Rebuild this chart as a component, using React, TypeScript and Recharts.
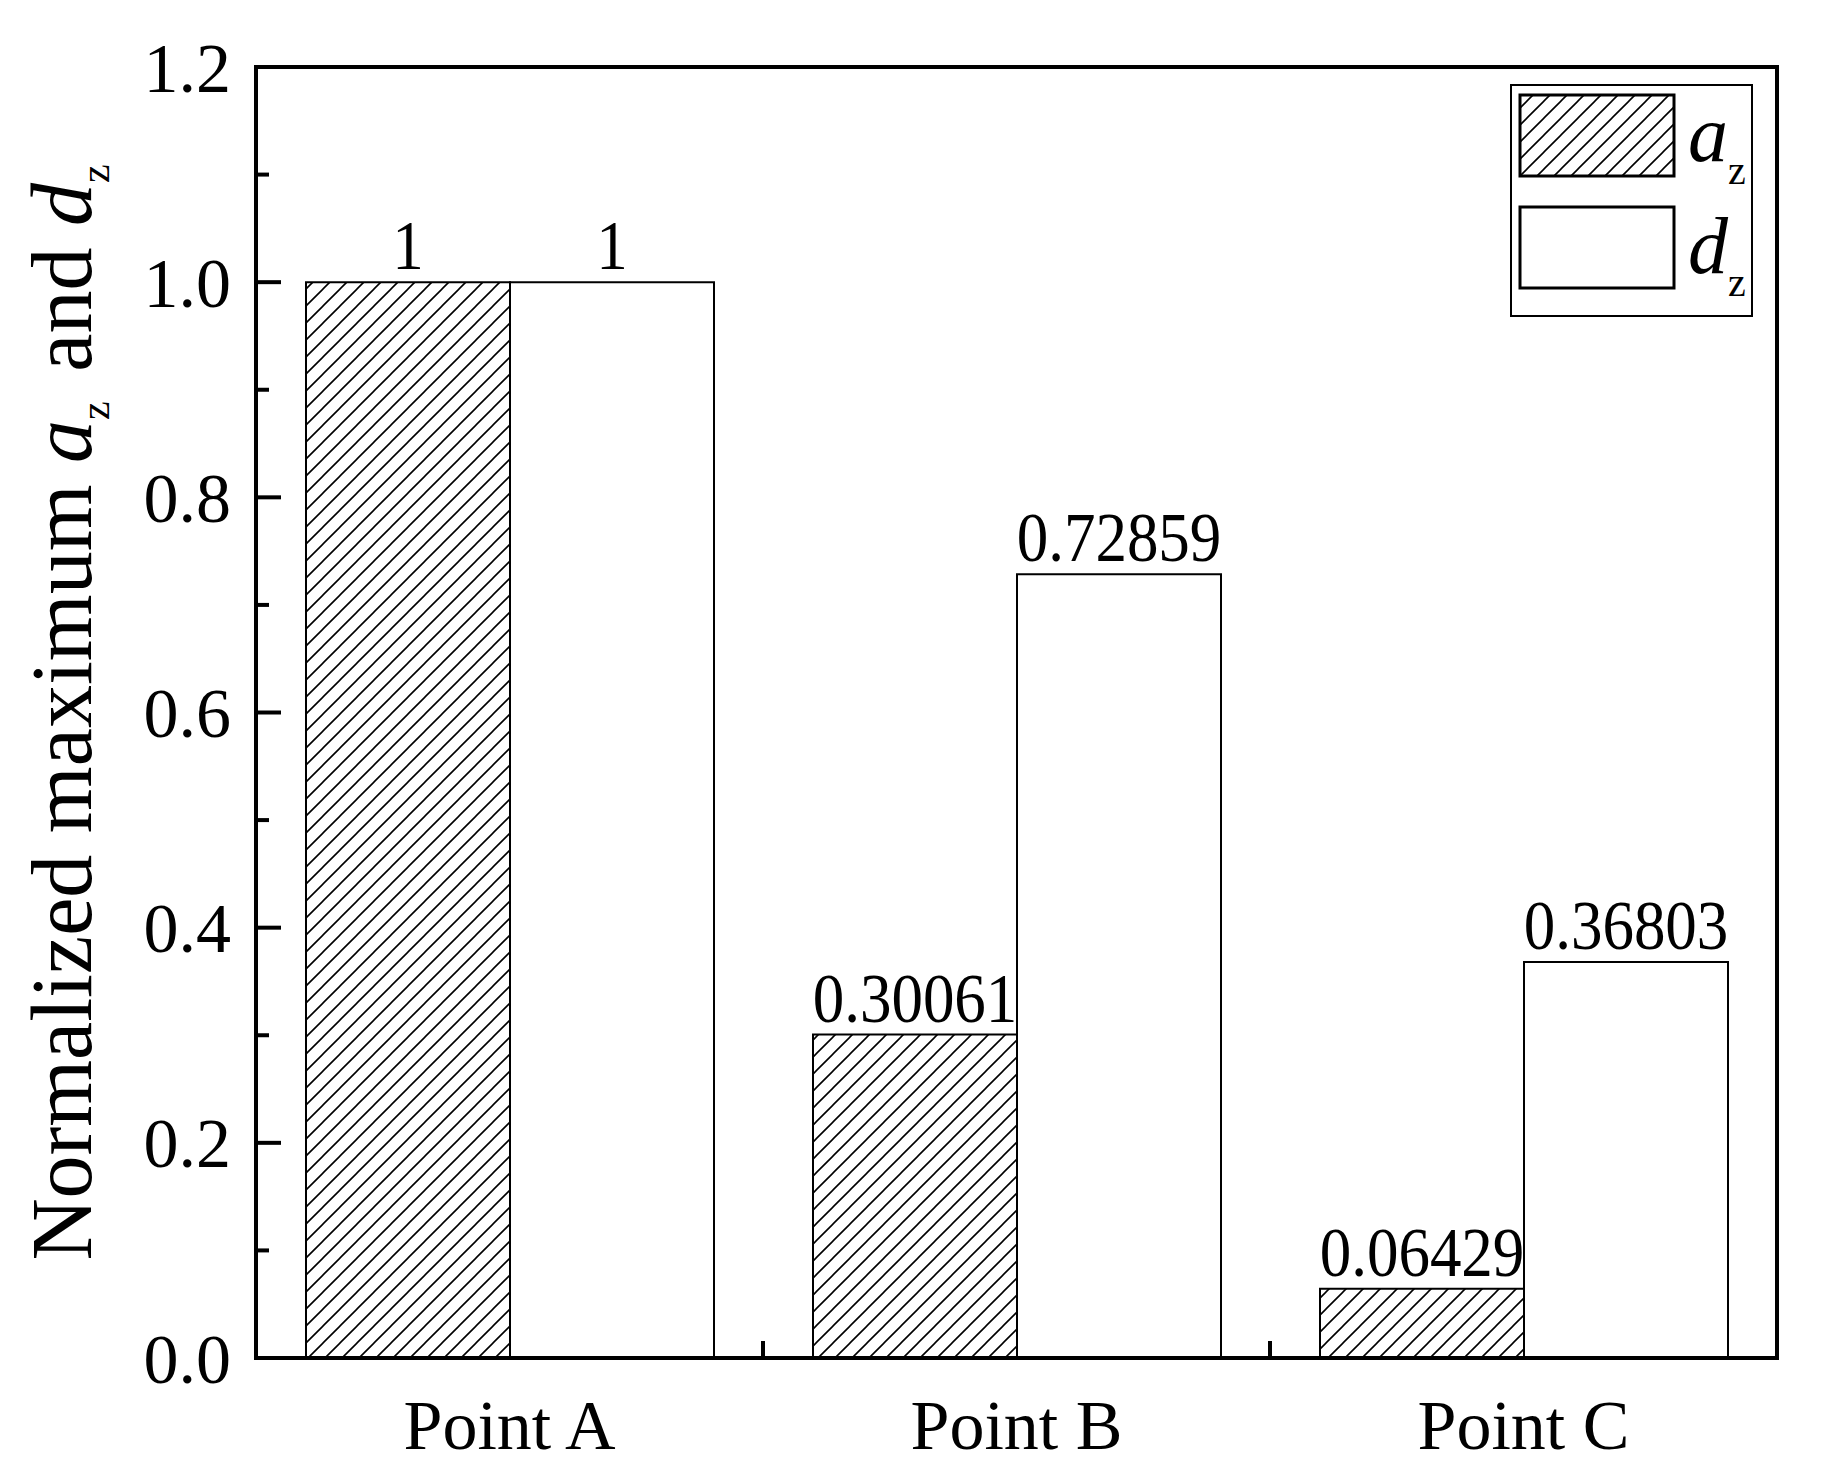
import { BarChart, Bar, XAxis, YAxis, LabelList } from 'recharts'

// values
const categories = ['Point A', 'Point B', 'Point C']
const azValues = [1, 0.30061, 0.06429]
const dzValues = [1, 0.72859, 0.36803]
const yTicks = [0, 0.1, 0.2, 0.3, 0.4, 0.5, 0.6, 0.7, 0.8, 0.9, 1.0, 1.1, 1.2]
const legendItems = [
  { key: 'az', letter: 'a', sub: 'z', hatched: true },
  { key: 'dz', letter: 'd', sub: 'z', hatched: false },
]

const data = categories.map((name, i) => ({ name, az: azValues[i], dz: dzValues[i] }))

const FONT = '"Liberation Serif", "Times New Roman", serif'
const AXIS_LINE = { stroke: '#000', strokeWidth: 4, strokeLinecap: 'square' as const }

function YTick({ x, y, payload }: any) {
  const v = payload.value as number
  const major = Math.round(v * 10) % 2 === 0
  return (
    <g>
      <line x1={x + 25} x2={x + 25 + (major ? 25 : 13)} y1={y} y2={y} stroke="#000" strokeWidth={4} />
      {major && (
        <text x={x} y={y} dy="0.35em" textAnchor="end" fontSize={70} fontFamily={FONT} fill="#000">
          {v.toFixed(1)}
        </text>
      )}
    </g>
  )
}

// category label plus the small inward tick at the boundary to the next category
function XTick({ x, y, payload }: any) {
  const half = payload.offset ?? 0
  const last = payload.index === categories.length - 1
  return (
    <g>
      {!last && half > 0 && (
        <line x1={x + half} x2={x + half} y1={y} y2={y - 17} stroke="#000" strokeWidth={4} />
      )}
      <text x={x} y={y + 91} textAnchor="middle" fontSize={70} fontFamily={FONT} fill="#000">
        {payload.value}
      </text>
    </g>
  )
}

function BarValue({ x, y, width, value }: any) {
  const cx = x + width / 2
  return (
    <text
      transform={`translate(${cx}, ${y - 13}) scale(0.9, 1)`}
      textAnchor="middle"
      fontSize={70}
      fontFamily={FONT}
      fill="#000"
    >
      {String(value)}
    </text>
  )
}

function YTitle({ viewBox }: any) {
  const cx = viewBox.x + 91
  const cy = viewBox.y + viewBox.height / 2
  return (
    <text
      x={cx}
      y={cy}
      transform={`rotate(-90, ${cx}, ${cy})`}
      textAnchor="middle"
      fontSize={86}
      fontFamily={FONT}
      fill="#000"
    >
      {'Normalized maximum '}
      <tspan fontStyle="italic">a</tspan>
      <tspan fontSize={42} dy={18}>{'z'}</tspan>
      <tspan dy={-18} dx={8}>{' and '}</tspan>
      <tspan fontStyle="italic">d</tspan>
      <tspan fontSize={42} dy={18}>{'z'}</tspan>
    </text>
  )
}

function LegendBox() {
  return (
    <svg width={243} height={233} style={{ position: 'absolute', left: 1510, top: 84 }}>
      <rect x={1} y={1} width={241} height={231} fill="#fff" stroke="#000" strokeWidth={2} />
      {legendItems.map((it, i) => (
        <g key={it.key}>
          <rect
            x={10}
            y={11 + i * 112}
            width={154}
            height={81}
            fill={it.hatched ? 'url(#hatch)' : '#fff'}
            stroke="#000"
            strokeWidth={3}
          />
          <text x={178} y={77 + i * 112} fontSize={80} fontStyle="italic" fontFamily={FONT} fill="#000">
            {it.letter}
          </text>
          <text x={218} y={100 + i * 112} fontSize={40} fontFamily={FONT} fill="#000">
            {it.sub}
          </text>
        </g>
      ))}
    </svg>
  )
}

export default function App() {
  return (
    <div style={{ position: 'absolute', left: 0, top: 0, width: 1827, height: 1482, background: '#fff' }}>
      <svg width={0} height={0} style={{ position: 'absolute' }}>
        <defs>
          <pattern id="hatch" patternUnits="userSpaceOnUse" width={17} height={17}>
            <path d="M-4,4 L4,-4 M0,17 L17,0 M13,21 L21,13" stroke="#000" strokeWidth={1.6} />
          </pattern>
        </defs>
      </svg>
      <BarChart
        width={1827}
        height={1482}
        data={data}
        margin={{ top: 66, right: 49, left: 0, bottom: 0 }}
        barCategoryGap={50}
        barGap={0}
      >
        <XAxis
          dataKey="name"
          height={124}
          axisLine={AXIS_LINE}
          tickLine={false}
          tickSize={0}
          tickMargin={0}
          tick={<XTick />}
          interval={0}
        />
        <XAxis xAxisId="top" dataKey="name" orientation="top" height={1} tick={false} tickLine={false} axisLine={AXIS_LINE} />
        <YAxis
          width={256}
          domain={[0, 1.2]}
          ticks={yTicks}
          interval={0}
          axisLine={AXIS_LINE}
          tickLine={false}
          tickSize={0}
          tickMargin={25}
          tick={<YTick />}
          label={{ content: (p: any) => <YTitle viewBox={p.viewBox} /> }}
        />
        <YAxis yAxisId="right" orientation="right" width={1} domain={[0, 1.2]} tick={false} tickLine={false} axisLine={AXIS_LINE} />
        <Bar dataKey="az" fill="url(#hatch)" stroke="#000" strokeWidth={2} isAnimationActive={false}>
          <LabelList dataKey="az" content={<BarValue />} />
        </Bar>
        <Bar dataKey="dz" fill="#fff" stroke="#000" strokeWidth={2} isAnimationActive={false}>
          <LabelList dataKey="dz" content={<BarValue />} />
        </Bar>
      </BarChart>
      <LegendBox />
    </div>
  )
}
